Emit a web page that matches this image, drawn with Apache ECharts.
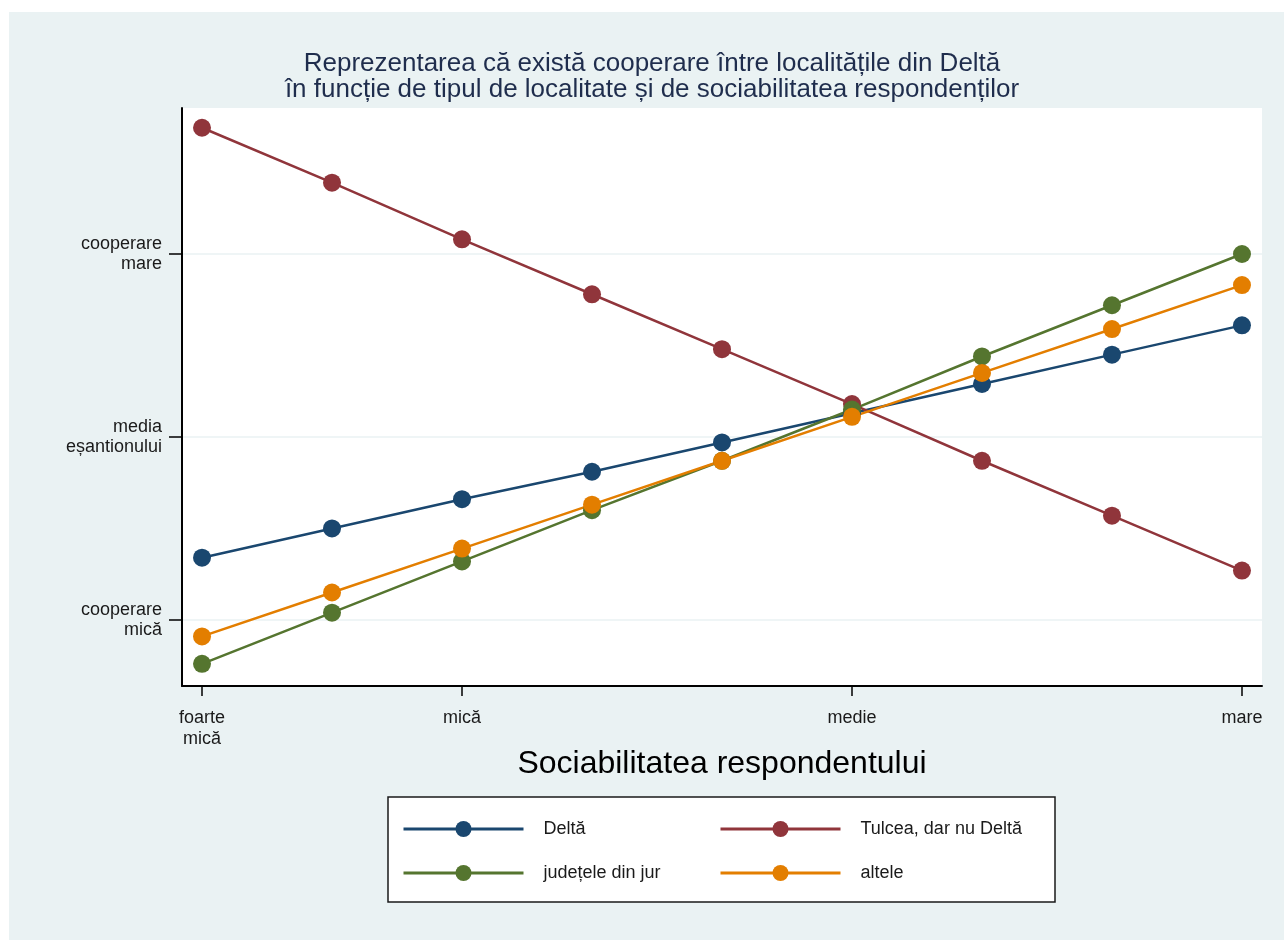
<!DOCTYPE html>
<html>
<head>
<meta charset="utf-8">
<script src="https://cdn.jsdelivr.net/npm/echarts@6/dist/echarts.min.js"></script>
<style>
html,body{margin:0;padding:0;background:#ffffff;}
#chart{position:absolute;left:9px;top:12px;width:1275px;height:928px;}
</style>
</head>
<body>
<div id="chart"></div>
<script>
// Sociability levels (x positions)
const levels = [0, 1, 2, 3, 4, 5, 6, 7, 8];
const xTickValues = [0, 2, 5, 8];
const xTickLabels = ['foarte\nmică', 'mică', 'medie', 'mare'];
const yTickValues = [-1, 0, 1];
const yTickLabels = ['cooperare\nmică', 'media\neșantionului', 'cooperare\nmare'];

const seriesNames = ['Deltă', 'Tulcea, dar nu Deltă', 'județele din jur', 'altele'];
const delta  = [-0.66, -0.50, -0.34, -0.19, -0.03, 0.13, 0.29, 0.45, 0.61];
const tulcea = [1.69, 1.39, 1.08, 0.78, 0.48, 0.18, -0.13, -0.43, -0.73];
const judete = [-1.24, -0.96, -0.68, -0.40, -0.13, 0.15, 0.44, 0.72, 1.00];
const altele = [-1.09, -0.85, -0.61, -0.37, -0.13, 0.11, 0.35, 0.59, 0.83];

const titleText = 'Reprezentarea că există cooperare între localitățile din Deltă\nîn funcție de tipul de localitate și de sociabilitatea respondenților';
const xAxisTitle = 'Sociabilitatea respondentului';

const colors = ['#1a476f', '#90353b', '#55752f', '#e37e00'];
const FONT = '"Liberation Sans", Arial, sans-serif';

function pairs(vals) { return levels.map((x, i) => [x, vals[i]]); }
function lineSeries(name, vals, color) {
  return {
    name: name, type: 'line', data: pairs(vals),
    symbol: 'circle', symbolSize: 18,
    lineStyle: { color: color, width: 2.5 },
    itemStyle: { color: color },
    emphasis: { disabled: true },
    animation: false
  };
}

const legendText = { fontSize: 18, color: '#1a1a1a', padding: [0, 0, 0, 15], fontFamily: FONT };

const chart = echarts.init(document.getElementById('chart'));
chart.setOption({
  backgroundColor: '#eaf2f3',
  animation: false,
  textStyle: { fontFamily: FONT },
  grid: { left: 173, top: 96, right: 22, bottom: 254, show: true, backgroundColor: '#ffffff', borderWidth: 0 },
  graphic: [
    { type: 'text', x: 643, y: 65, z: 10,
      style: { text: titleText, fill: '#1f2d4d', font: '26px ' + FONT, align: 'center', verticalAlign: 'middle', lineHeight: 26 } },
    { type: 'rect', shape: { x: 379, y: 785, width: 667, height: 105 }, z: 0,
      style: { fill: '#ffffff', stroke: '#1a1a1a', lineWidth: 1.5 } }
  ],
  xAxis: {
    type: 'value', min: -0.154, max: 8.154,
    name: xAxisTitle, nameLocation: 'middle', nameGap: 62, nameMoveOverlap: false,
    nameTextStyle: { fontSize: 32, color: '#000', fontFamily: FONT },
    axisLine: { show: true, onZero: false, lineStyle: { color: '#000', width: 2 } },
    axisTick: { show: true, length: 10, customValues: xTickValues, lineStyle: { color: '#000', width: 1.5 } },
    axisLabel: { customValues: xTickValues, margin: 22, fontSize: 18, lineHeight: 21, color: '#1a1a1a',
      formatter: v => xTickLabels[xTickValues.indexOf(v)] },
    splitLine: { show: false }
  },
  yAxis: {
    type: 'value', min: -1.361, max: 1.798,
    axisLine: { show: true, onZero: false, lineStyle: { color: '#000', width: 2 } },
    axisTick: { show: true, length: 13, customValues: yTickValues, lineStyle: { color: '#000', width: 1.5 } },
    axisLabel: { customValues: yTickValues, margin: 20, fontSize: 18, lineHeight: 20, color: '#1a1a1a', align: 'right',
      formatter: v => yTickLabels[yTickValues.indexOf(v)] },
    splitLine: { show: true, lineStyle: { color: '#eaf2f3', width: 1.5 } }
  },
  legend: [
    { data: [seriesNames[0], seriesNames[2]], orient: 'vertical', left: 388, top: 803, itemWidth: 120, itemHeight: 20, itemGap: 26, z: 10,
      selectedMode: false, lineStyle: { width: 3 }, textStyle: legendText },
    { data: [seriesNames[1], seriesNames[3]], orient: 'vertical', left: 705, top: 803, itemWidth: 120, itemHeight: 20, itemGap: 26, z: 10,
      selectedMode: false, lineStyle: { width: 3 }, textStyle: legendText }
  ],
  series: [
    lineSeries(seriesNames[0], delta, colors[0]),
    lineSeries(seriesNames[1], tulcea, colors[1]),
    lineSeries(seriesNames[2], judete, colors[2]),
    lineSeries(seriesNames[3], altele, colors[3])
  ]
});
</script>
</body>
</html>
